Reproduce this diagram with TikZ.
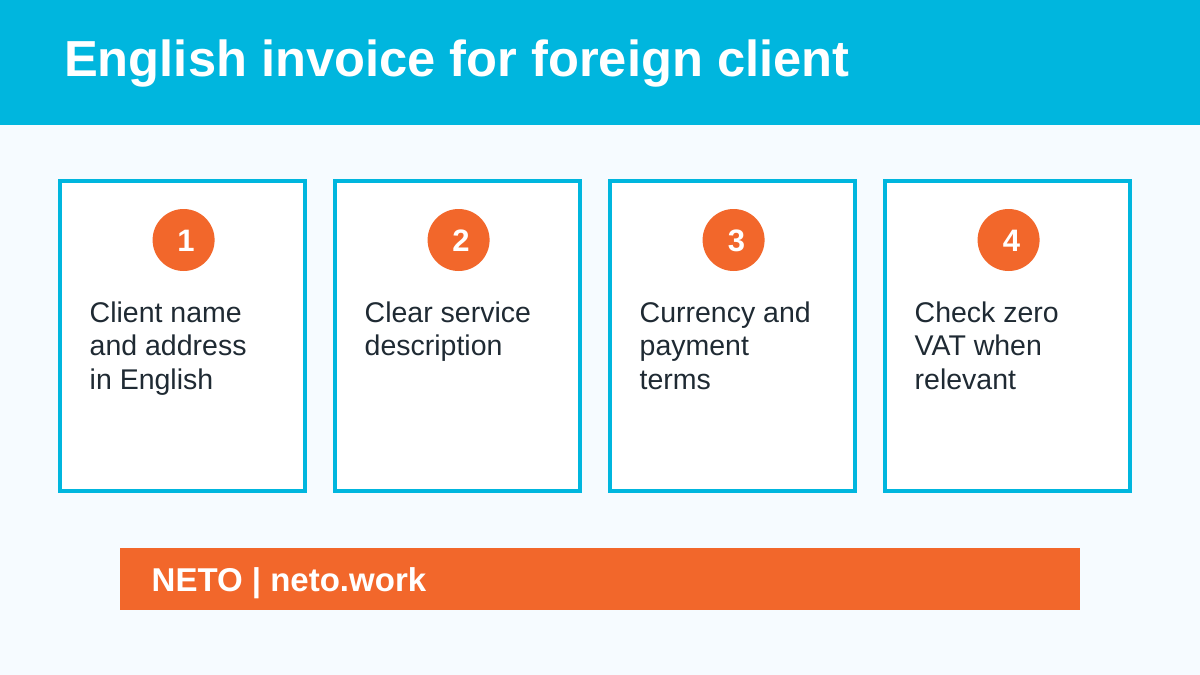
\documentclass[tikz,border=0pt]{standalone}
\usepackage{fontspec}
\setmainfont{Liberation Sans}
\definecolor{bgc}{HTML}{F6FBFF}
\definecolor{cyanc}{HTML}{00B6DE}
\definecolor{orangec}{HTML}{F2672B}
\definecolor{textc}{HTML}{1F2A33}
\tikzset{x=1pt,y=-1pt,
 card/.style={draw=cyanc,line width=4pt,fill=white,minimum width=245pt,minimum height=310pt,inner sep=0pt,outer sep=0pt,anchor=north west},
 badge/.style={circle,fill=orangec,minimum size=62pt,inner sep=0pt,outer sep=0pt},
 digit/.style={text=white,inner sep=0pt,font=\fontsize{31}{34}\selectfont\bfseries},
 body/.style={anchor=north west,inner sep=0pt,text=textc,align=left,font=\fontsize{28.5}{33.5}\selectfont}}
\begin{document}
\begin{tikzpicture}
\useasboundingbox (0,0) rectangle (1200,675);
\fill[bgc] (0,0) rectangle (1200,675);
\fill[cyanc] (0,0) rectangle (1200,125);
\node[anchor=base west,inner sep=0pt,text=white,font=\fontsize{50.65}{60}\selectfont\bfseries] (title) at (64,76) {English invoice for foreign client};
\node[card] (c1) at (60.4,180.5) {};
\node[card] (c2) at (335.4,180.5) {};
\node[card] (c3) at (610.4,180.5) {};
\node[card] (c4) at (885.4,180.5) {};
\node[badge] (b1) at (183.6,240) {};
\node[badge] (b2) at (458.6,240) {};
\node[badge] (b3) at (733.6,240) {};
\node[badge] (b4) at (1008.6,240) {};
\node[digit] (d1) at (186,241) {1};
\node[digit] (d2) at (461,241) {2};
\node[digit] (d3) at (736.5,241) {3};
\node[digit] (d4) at (1011.5,241) {4};
\node[body] (t1) at (89.5,301.5) {Client name\\and address\\in English};
\node[body] (t2) at (364.5,301.5) {Clear service\\description};
\node[body] (t3) at (639.5,301.5) {Currency and\\payment\\terms};
\node[body] (t4) at (914.5,301.5) {Check zero\\VAT when\\relevant};
\fill[orangec] (120.3,548.3) rectangle (1080.3,610.3);
\node[anchor=base west,inner sep=0pt,text=white,font=\fontsize{33}{40}\selectfont\bfseries] (foot) at (151.5,591) {NETO | neto.work};
\end{tikzpicture}
\end{document}
